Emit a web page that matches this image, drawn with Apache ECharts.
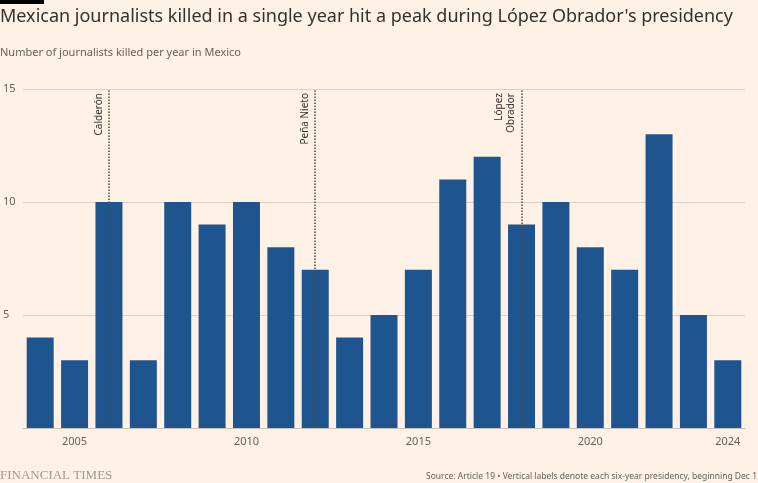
<!DOCTYPE html>
<html><head><meta charset="utf-8">
<script src="https://cdn.jsdelivr.net/npm/echarts@6/dist/echarts.min.js"></script>
<style>html,body{margin:0;padding:0;background:#fff1e5;}#c{width:758px;height:483px;}</style>
</head><body><div id="c"></div>
<script>
const years = ['2004','2005','2006','2007','2008','2009','2010','2011','2012','2013','2014','2015','2016','2017','2018','2019','2020','2021','2022','2023','2024'];
const killed = [4,3,10,3,10,9,10,8,7,4,5,7,11,12,9,10,8,7,13,5,3];
const presidencies = [['2006','Calderón'],['2012','Peña Nieto'],['2018','López\nObrador']];
const labeledYears = ['2005','2010','2015','2020','2024'];

const chart = echarts.init(document.getElementById('c'), null, {renderer:'canvas'});
const font = "'Noto Sans', sans-serif";
chart.setOption({
  backgroundColor:'#fff1e5',
  animation:false,
  textStyle:{fontFamily:font},
  graphic:[
    {type:'rect', left:0, top:0, shape:{width:44,height:4}, style:{fill:'#000'}},
    {type:'text', left:0, top:8, style:{text:"Mexican journalists killed in a single year hit a peak during López Obrador's presidency", font:"18px "+font, fill:'#33302e'}},
    {type:'text', left:0, top:47, style:{text:'Number of journalists killed per year in Mexico', font:"11px "+font, fill:'#66605c'}},
    {type:'text', left:0, top:469, style:{text:'FINANCIAL TIMES', font:"13px 'Liberation Serif', serif", fill:'#a09890'}},
    {type:'text', right:1, top:472, style:{text:'Source: Article 19 • Vertical labels denote each six-year presidency, beginning Dec 1', font:"8.5px "+font, fill:'#66605c'}}
  ],
  grid:{left:21, right:13, top:89, bottom:55, containLabel:false},
  xAxis:{
    type:'category', data:years,
    axisLine:{lineStyle:{color:'#c9bfb5'}},
    axisTick:{alignWithLabel:true, length:5, lineStyle:{color:'#c9bfb5'}, interval:(i,v)=>labeledYears.includes(v)},
    axisLabel:{color:'#66605c', fontSize:11, margin:8, interval:(i,v)=>labeledYears.includes(v)}
  },
  yAxis:{
    type:'value', min:0, max:15, interval:5,
    axisLabel:{align:'left', margin:20, color:'#66605c', fontSize:11, formatter:v=>v===0?'':String(v), verticalAlign:'middle'},
    splitLine:{lineStyle:{color:'#dbd0c6'}},
    axisLine:{show:false}, axisTick:{show:false}
  },
  series:[{
    type:'bar', data:killed, barWidth:27,
    itemStyle:{color:'#1f558f'},
    markLine:{
      silent:true, symbol:'none',
      lineStyle:{type:[1.5,1.5], color:'#4d4845', width:1.5},
      label:{position:'insideEndTop', color:'#33302e', fontSize:10, fontFamily:font, distance:[4,4], lineHeight:12},
      data:presidencies.map(p=>({xAxis:p[0], label:{formatter:p[1]}}))
    }
  }]
});
</script></body></html>
